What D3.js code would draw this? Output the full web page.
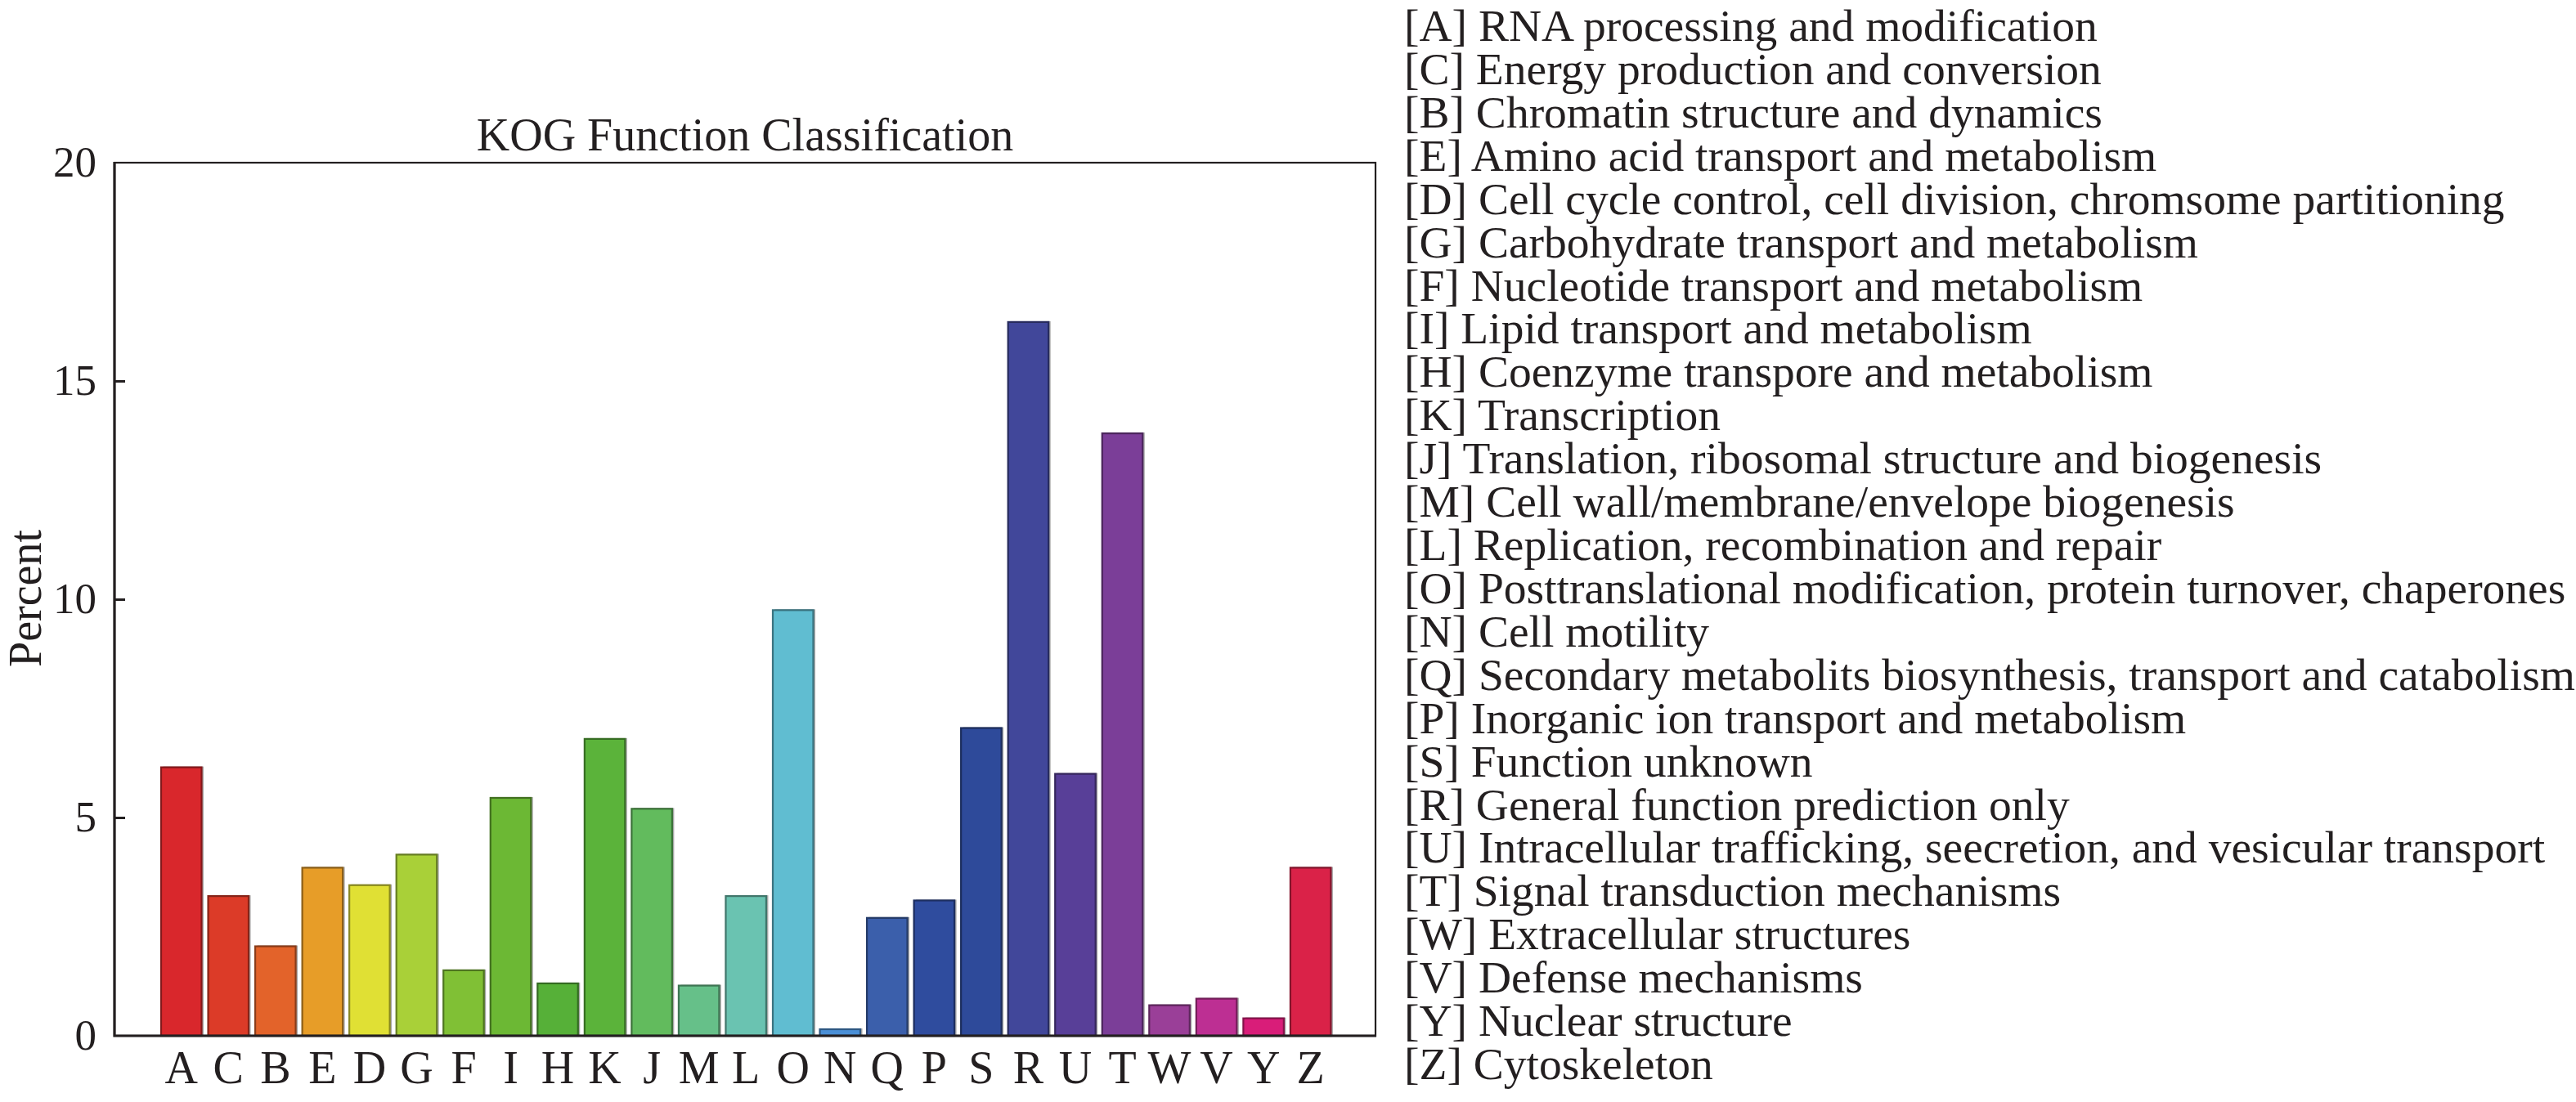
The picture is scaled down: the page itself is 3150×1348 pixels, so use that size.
<!DOCTYPE html>
<html>
<head>
<meta charset="utf-8">
<script src="https://cdn.jsdelivr.net/npm/d3@7"></script>
<style>
  html, body { margin: 0; padding: 0; background: #fff; }
  text { font-family: "Liberation Serif", "Times New Roman", serif; fill: #231f20; }
</style>
</head>
<body>
<svg id="chart" width="3150" height="1348"></svg>
<script>
const categories = ["A","C","B","E","D","G","F","I","H","K","J","M","L","O","N","Q","P","S","R","U","T","W","V","Y","Z"];
const values = [6.15, 3.2, 2.05, 3.85, 3.45, 4.15, 1.5, 5.45, 1.2, 6.8, 5.2, 1.15, 3.2, 9.75, 0.15, 2.7, 3.1, 7.05, 16.35, 6.0, 13.8, 0.7, 0.85, 0.4, 3.85];
const colors = ["#d9272c","#dc3b28","#e3632a","#e79d28","#e0e034","#a9d038","#80c035","#6cb834","#56b038","#5bb33a","#62bb5d","#66c089","#6ac3b1","#60bdd1","#4a8fd6","#3b5fab","#2f4c9e","#2e4a9a","#41479a","#583f98","#7b3e98","#9a3f98","#bd2f93","#d91d79","#da2248"];
const legendLabels = [
  "[A] RNA processing and modification",
  "[C] Energy production and conversion",
  "[B] Chromatin structure and dynamics",
  "[E] Amino acid transport and metabolism",
  "[D] Cell cycle control, cell division, chromsome partitioning",
  "[G] Carbohydrate transport and metabolism",
  "[F] Nucleotide transport and metabolism",
  "[I] Lipid transport and metabolism",
  "[H] Coenzyme transpore and metabolism",
  "[K] Transcription",
  "[J] Translation, ribosomal structure and biogenesis",
  "[M] Cell wall/membrane/envelope biogenesis",
  "[L] Replication, recombination and repair",
  "[O] Posttranslational modification, protein turnover, chaperones",
  "[N] Cell motility",
  "[Q] Secondary metabolits biosynthesis, transport and catabolism",
  "[P] Inorganic ion transport and metabolism",
  "[S] Function unknown",
  "[R] General function prediction only",
  "[U] Intracellular trafficking, seecretion, and vesicular transport",
  "[T] Signal transduction mechanisms",
  "[W] Extracellular structures",
  "[V] Defense mechanisms",
  "[Y] Nuclear structure",
  "[Z] Cytoskeleton"
];
const yTicks = [0, 5, 10, 15, 20];
const titleText = "KOG Function Classification";
const yLabel = "Percent";

const svg = d3.select("#chart");
const plot = { left: 140, right: 1682, top: 199, bottom: 1267 };

const x = d3.scaleBand().domain(categories).range([197, 1627.4]).paddingInner(0.14).paddingOuter(0);
const y = d3.scaleLinear().domain([0, 20]).range([plot.bottom, plot.top]);

const bars = svg.append("g");
// soft grey shadow on the right edge
bars.selectAll("rect.shadow").data(categories).join("rect")
  .attr("class", "shadow")
  .attr("x", d => x(d) + 2.5)
  .attr("y", (d, i) => y(values[i]) - 1)
  .attr("width", x.bandwidth())
  .attr("height", (d, i) => y(0) - y(values[i]) + 1)
  .attr("fill", "#a8a8a8");
bars.selectAll("rect.bar").data(categories).join("rect")
  .attr("class", "bar")
  .attr("x", d => x(d))
  .attr("y", (d, i) => y(values[i]))
  .attr("width", x.bandwidth())
  .attr("height", (d, i) => y(0) - y(values[i]))
  .attr("fill", (d, i) => colors[i])
  .attr("stroke", (d, i) => d3.color(colors[i]).darker(1.4))
  .attr("stroke-width", 2.2);

// frame (thin top/right)
svg.append("rect")
  .attr("x", plot.left).attr("y", plot.top)
  .attr("width", plot.right - plot.left).attr("height", plot.bottom - plot.top)
  .attr("fill", "none").attr("stroke", "#231f20").attr("stroke-width", 2.2);
// thicker left and bottom axis lines
svg.append("path")
  .attr("d", `M${plot.left},${plot.top - 1}V${plot.bottom}H${plot.right + 1}`)
  .attr("fill", "none").attr("stroke", "#231f20").attr("stroke-width", 3.2);

// y axis
const yAxis = d3.axisLeft(y).tickValues(yTicks).tickSize(-13).tickPadding(22).tickFormat(d3.format("d"));
const gy = svg.append("g").attr("transform", `translate(${plot.left},0)`).call(yAxis);
gy.select(".domain").remove();
gy.selectAll(".tick line").attr("stroke", "#231f20").attr("stroke-width", 3)
  .filter(d => d === 0 || d === 20).remove();
gy.selectAll(".tick text").attr("font-size", 53).attr("font-family", "Liberation Serif").attr("fill", "#231f20");

// x axis
const xAxis = d3.axisBottom(x).tickSize(0).tickPadding(18);
const gx = svg.append("g").attr("transform", `translate(0,${plot.bottom})`).call(xAxis);
gx.select(".domain").remove();
gx.selectAll(".tick text").attr("font-size", 56).attr("font-family", "Liberation Serif").attr("fill", "#231f20");

// title
svg.append("text").attr("x", 911).attr("y", 184).attr("text-anchor", "middle")
  .attr("font-size", 56).text(titleText);

// y label
svg.append("text").attr("transform", "translate(50,732) rotate(-90)").attr("text-anchor", "middle")
  .attr("font-size", 56).text(yLabel);

// legend
const ly = d3.scaleLinear().domain([0, legendLabels.length - 1]).range([50, 1320]);
svg.append("g").selectAll("text").data(legendLabels).join("text")
  .attr("x", 1717).attr("y", (d, i) => ly(i))
  .attr("font-size", 55.5).text(d => d);
</script>
</body>
</html>
